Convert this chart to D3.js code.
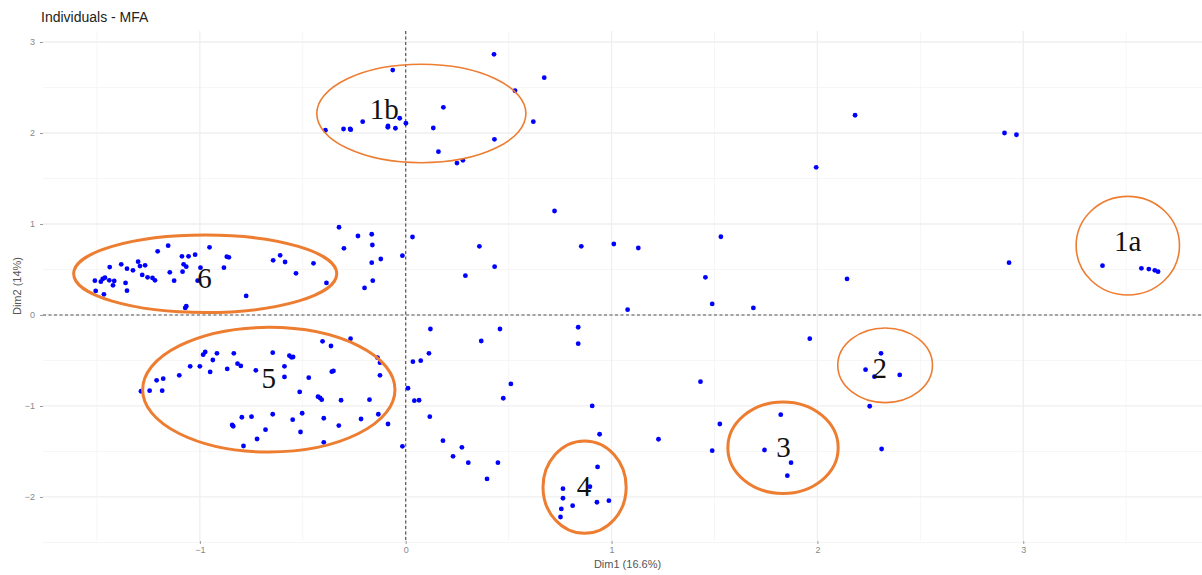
<!DOCTYPE html>
<html><head><meta charset="utf-8">
<script src="https://cdn.jsdelivr.net/npm/d3@7"></script>
<style>body{margin:0;background:#fff;}svg{display:block;}</style>
</head><body>
<script>
// ---- data (Dim1, Dim2) ----
const dim1 = [0.429,-0.063,0.673,0.531,0.183,-0.209,-0.029,0.620,-0.390,-0.302,-0.270,-0.267,-0.086,-0.087,-0.050,0.001,0.134,0.431,0.159,0.249,0.278,0.723,2.183,2.909,2.967,1.994,
2.931,2.144,3.385,3.574,3.610,3.639,3.655,1.963,2.309,2.234,2.277,2.400,2.254,2.312,
0.033,0.358,0.853,1.011,1.130,1.531,0.432,0.290,1.456,1.489,1.689,1.078,0.120,0.458,0.838,0.367,0.838,0.113,0.035,0.073,0.511,1.432,0.011,0.042,0.065,0.474,0.117,0.906,0.942,1.228,-0.016,0.181,0.230,0.273,0.304,0.448,0.395,1.526,1.489,
0.932,0.895,0.764,0.764,0.811,0.929,0.987,0.756,0.752,
1.822,1.743,1.872,1.854,
-0.324,-0.232,-0.165,-0.300,-0.162,-0.016,-0.121,-0.165,-0.160,-0.200,
-1.205,-1.154,-0.953,-1.087,-1.055,-1.023,-0.869,-0.859,-1.438,-1.382,-1.354,-1.325,-1.300,-1.291,-1.266,-1.079,-1.066,-0.997,-0.883,-1.146,-1.084,-1.280,-1.254,-1.230,-1.218,-1.125,-1.011,-1.510,-1.481,-1.472,-1.461,-1.440,-1.416,-1.422,-1.361,-1.506,-1.466,-1.354,-1.071,-1.066,-0.775,-0.644,-0.610,-0.586,-0.533,-0.448,-0.385,
-1.286,-1.244,-1.183,-1.210,-1.178,-1.100,-1.047,-1.000,-0.984,-0.974,-0.917,-0.937,-0.950,-0.867,-0.835,-0.817,-0.801,-0.728,-0.646,-0.589,-0.589,-0.565,-0.555,-0.547,-0.471,-0.515,-0.426,-0.416,-0.408,-0.314,-0.404,-0.363,-0.268,-0.359,-0.351,-0.137,-0.125,-0.125,-0.176,
-0.843,-0.838,-0.796,-0.749,-0.646,-0.549,-0.503,-0.398,-0.325,-0.217,-0.133,-0.086,-0.681,-0.511,-0.722,-0.788,-0.398];
const dim2 = [2.865,2.692,2.608,2.465,2.282,2.124,2.162,2.124,2.030,2.044,2.044,2.036,2.077,2.063,2.052,2.107,2.055,1.931,1.795,1.670,1.700,1.143,2.195,2.000,1.981,1.623,
0.575,0.396,0.542,0.513,0.505,0.491,0.476,-0.260,-0.421,-0.601,-0.678,-0.659,-1.003,-1.473,
0.857,0.755,0.755,0.780,0.736,0.860,0.531,0.432,0.414,0.121,0.077,0.058,-0.154,-0.154,-0.135,-0.286,-0.315,-0.421,-0.513,-0.502,-0.758,-0.733,-0.805,-0.942,-0.937,-0.915,-1.118,-1.000,-1.311,-1.366,-1.443,-1.381,-1.553,-1.454,-1.623,-1.623,-1.802,-1.198,-1.491,
-1.670,-1.887,-1.909,-2.014,-2.096,-2.058,-2.041,-2.132,-2.220,
-1.096,-1.484,-1.623,-1.766,
0.964,0.868,0.887,0.733,0.769,0.652,0.615,0.575,0.377,0.297,
0.700,0.762,0.744,0.645,0.645,0.663,0.641,0.634,0.527,0.557,0.509,0.491,0.586,0.538,0.546,0.557,0.531,0.520,0.520,0.469,0.476,0.440,0.414,0.407,0.381,0.377,0.377,0.377,0.366,0.396,0.410,0.381,0.374,0.326,0.352,0.264,0.227,0.267,0.077,0.096,0.209,0.601,0.656,0.582,0.458,0.568,0.352,
-0.838,-0.832,-0.832,-0.718,-0.700,-0.663,-0.564,-0.564,-0.436,-0.407,-0.421,-0.495,-0.626,-0.593,-0.421,-0.535,-0.560,-0.608,-0.414,-0.564,-0.681,-0.447,-0.465,-0.462,-0.689,-0.846,-0.898,-0.912,-0.931,-0.937,-0.289,-0.341,-0.260,-0.623,-0.615,-0.469,-0.524,-0.663,-0.931,
-1.209,-1.223,-1.124,-1.118,-1.091,-1.151,-1.080,-1.135,-1.216,-1.143,-1.091,-1.198,-1.260,-1.286,-1.363,-1.440,-1.399];

// group annotations: label, ellipse centre, radii (data units), label position
const groupLabels = ["1b","6","5","4","3","2","1a"];
const groupCx = [0.076,-0.974,-0.665,0.869,1.833,2.329,3.508];
const groupCy = [2.214,0.453,-0.821,-1.892,-1.459,-0.553,0.762];
const groupRx = [0.508,0.639,0.613,0.202,0.268,0.230,0.251];
const groupRy = [0.541,0.426,0.685,0.508,0.503,0.410,0.542];
const groupTx = [-0.104,-0.977,-0.665,0.866,1.835,2.303,3.507];
const groupTy = [2.159,0.297,-0.802,-1.989,-1.557,-0.692,0.703];
const groupThick = [false,true,true,true,true,false,false];

const xTicks = [-1,0,1,2,3];
const yTicks = [-2,-1,0,1,2,3];
const xDomain = [-1.762, 3.917];
const yDomain = [-2.484, 3.121];

const W = 1202, H = 575;
const P = {left: 43, right: 1212, top: 31, bottom: 541};

const svg = d3.select("body").append("svg").attr("width", W).attr("height", H);
const x = d3.scaleLinear().domain(xDomain).range([P.left, P.right]);
const y = d3.scaleLinear().domain(yDomain).range([P.bottom, P.top]);
const rxPx = v => Math.abs(x(v) - x(0));
const ryPx = v => Math.abs(y(v) - y(0));

// grid
const g = svg.append("g");
const minorX = d3.range(-1.5, 4, 1), minorY = d3.range(-2.5, 3.5, 1);
g.selectAll(".mx").data(minorX).join("line").attr("x1", d=>x(d)).attr("x2", d=>x(d)).attr("y1", P.top).attr("y2", P.bottom).attr("stroke", "#f6f6f6").attr("stroke-width", 1);
g.selectAll(".my").data(minorY).join("line").attr("y1", d=>y(d)).attr("y2", d=>y(d)).attr("x1", P.left).attr("x2", P.right).attr("stroke", "#f6f6f6").attr("stroke-width", 1);
g.selectAll(".gx").data(xTicks).join("line").attr("x1", d=>x(d)).attr("x2", d=>x(d)).attr("y1", P.top).attr("y2", P.bottom).attr("stroke", "#efefef").attr("stroke-width", 1.3);
g.selectAll(".gy").data(yTicks).join("line").attr("y1", d=>y(d)).attr("y2", d=>y(d)).attr("x1", P.left).attr("x2", P.right).attr("stroke", "#efefef").attr("stroke-width", 1.3);

// axes
const xAxis = svg.append("g").attr("transform", `translate(0,${P.bottom})`)
  .call(d3.axisBottom(x).tickValues(xTicks).tickSize(3).tickPadding(3).tickFormat(d3.format("d")));
const yAxis = svg.append("g").attr("transform", `translate(${P.left - 3},0)`)
  .call(d3.axisLeft(y).tickValues(yTicks).tickSize(3).tickPadding(2).tickFormat(d3.format("d")));
[xAxis, yAxis].forEach(a => {
  a.select(".domain").remove();
  a.selectAll(".tick line").attr("stroke", "#999");
  a.selectAll(".tick text").attr("fill", "#888").style("font-family", "Liberation Sans, Arial, sans-serif").style("font-size", "9px");
});
yAxis.selectAll(".tick line").attr("transform", "translate(3,0)");

// reference lines
svg.append("line").attr("x1", P.left).attr("x2", P.right).attr("y1", y(0)).attr("y2", y(0))
  .attr("stroke", "#555").attr("stroke-width", 1.2).attr("stroke-dasharray", "3,2.5");
svg.append("line").attr("x1", x(0)).attr("x2", x(0)).attr("y1", P.top).attr("y2", P.bottom)
  .attr("stroke", "#555").attr("stroke-width", 1.2).attr("stroke-dasharray", "3,2.5");

// points
const pts = dim1.map((d, i) => [d, dim2[i]]);
svg.append("g").selectAll("circle").data(pts).join("circle")
  .attr("cx", d => x(d[0])).attr("cy", d => y(d[1])).attr("r", 2.4).attr("fill", "#0000ff");

// ellipses and labels
const groups = groupLabels.map((l, i) => ({l, cx: groupCx[i], cy: groupCy[i], rx: groupRx[i], ry: groupRy[i], tx: groupTx[i], ty: groupTy[i], thick: groupThick[i]}));
svg.append("g").selectAll("ellipse").data(groups).join("ellipse")
  .attr("cx", d => x(d.cx)).attr("cy", d => y(d.cy)).attr("rx", d => rxPx(d.rx)).attr("ry", d => ryPx(d.ry))
  .attr("fill", "none").attr("stroke", "#ed7d31").attr("stroke-width", d => d.thick ? 3 : 1.6);
svg.append("g").selectAll("text").data(groups).join("text")
  .attr("x", d => x(d.tx)).attr("y", d => y(d.ty)).attr("text-anchor", "middle")
  .style("font-family", "Liberation Serif, Times New Roman, serif").style("font-size", "29px").attr("fill", "#111")
  .text(d => d.l);

// titles
svg.append("text").attr("x", 41).attr("y", 22).text("Individuals - MFA")
  .style("font-family", "Liberation Sans, Arial, sans-serif").style("font-size", "14px").attr("fill", "#222");
svg.append("text").attr("x", (P.left + P.right) / 2).attr("y", 568).attr("text-anchor", "middle").text("Dim1 (16.6%)")
  .style("font-family", "Liberation Sans, Arial, sans-serif").style("font-size", "11px").attr("fill", "#555");
svg.append("text").attr("transform", `translate(21,${(P.top + P.bottom) / 2}) rotate(-90)`).attr("text-anchor", "middle").text("Dim2 (14%)")
  .style("font-family", "Liberation Sans, Arial, sans-serif").style("font-size", "11px").attr("fill", "#555");
</script>
</body></html>
